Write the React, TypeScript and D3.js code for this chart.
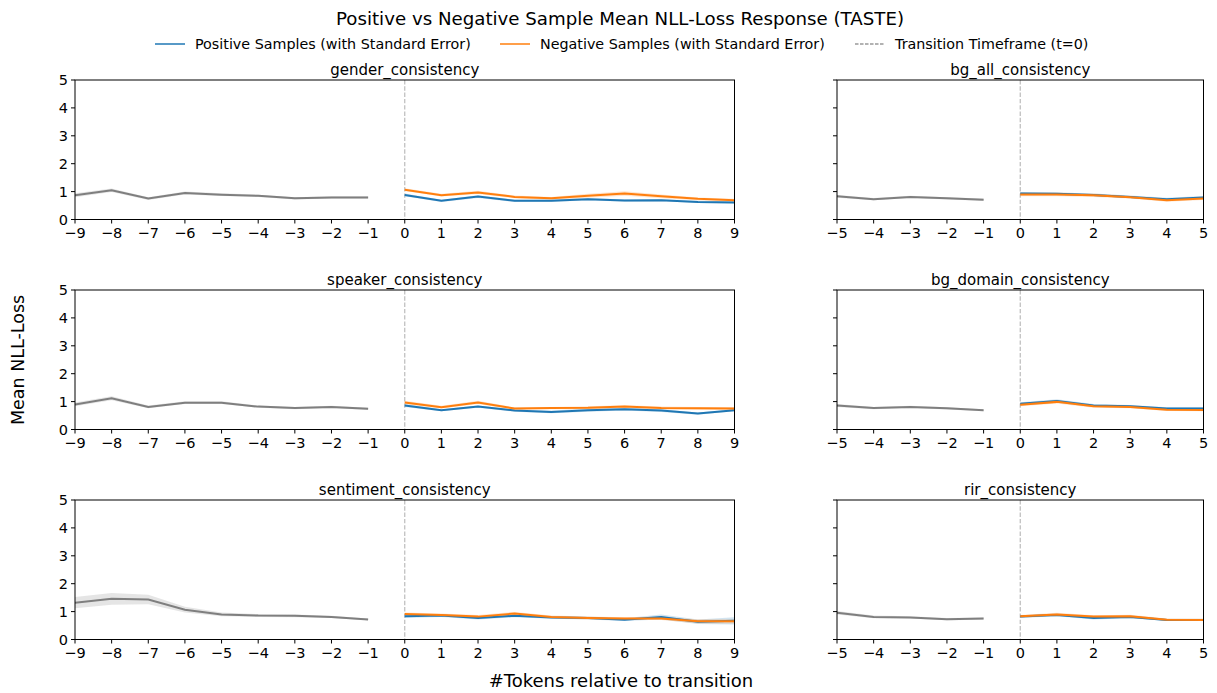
import React from "react";
import * as d3 from "d3";

const W = 1217;
const H = 693;

const panelNames = [
  "gender_consistency",
  "bg_all_consistency",
  "speaker_consistency",
  "bg_domain_consistency",
  "sentiment_consistency",
  "rir_consistency",
];

const preLong = [-9, -8, -7, -6, -5, -4, -3, -2, -1];
const postLong = [0, 1, 2, 3, 4, 5, 6, 7, 8, 9];
const preShort = [-5, -4, -3, -2, -1];
const postShort = [0, 1, 2, 3, 4, 5];

// gender
const genderPre = [0.87, 1.05, 0.75, 0.95, 0.89, 0.85, 0.76, 0.79, 0.79];
const genderPreSE = [0.07, 0.06, 0.05, 0.05, 0.05, 0.04, 0.04, 0.04, 0.04];
const genderPos = [0.88, 0.67, 0.82, 0.67, 0.67, 0.73, 0.68, 0.69, 0.63, 0.61];
const genderPosSE = [0.05, 0.04, 0.05, 0.04, 0.04, 0.04, 0.04, 0.04, 0.04, 0.04];
const genderNeg = [1.07, 0.87, 0.97, 0.81, 0.76, 0.85, 0.93, 0.83, 0.74, 0.69];
const genderNegSE = [0.05, 0.05, 0.06, 0.05, 0.05, 0.07, 0.08, 0.07, 0.05, 0.05];

// speaker
const speakerPre = [0.9, 1.12, 0.81, 0.96, 0.96, 0.82, 0.77, 0.81, 0.74];
const speakerPreSE = [0.07, 0.07, 0.05, 0.05, 0.05, 0.04, 0.04, 0.04, 0.04];
const speakerPos = [0.86, 0.69, 0.82, 0.68, 0.63, 0.69, 0.73, 0.68, 0.57, 0.69];
const speakerPosSE = [0.05, 0.04, 0.04, 0.04, 0.05, 0.05, 0.05, 0.05, 0.04, 0.04];
const speakerNeg = [0.97, 0.8, 0.97, 0.75, 0.77, 0.78, 0.82, 0.77, 0.76, 0.75];
const speakerNegSE = [0.06, 0.05, 0.06, 0.04, 0.04, 0.05, 0.05, 0.05, 0.05, 0.05];

// sentiment
const sentimentPre = [1.32, 1.46, 1.43, 1.07, 0.9, 0.86, 0.85, 0.81, 0.72];
const sentimentPreSE = [0.2, 0.21, 0.17, 0.1, 0.07, 0.05, 0.05, 0.04, 0.03];
const sentimentPos = [0.83, 0.86, 0.77, 0.85, 0.79, 0.77, 0.71, 0.81, 0.64, 0.67];
const sentimentPosSE = [0.06, 0.05, 0.05, 0.05, 0.05, 0.05, 0.05, 0.09, 0.08, 0.13];
const sentimentNeg = [0.91, 0.88, 0.82, 0.93, 0.81, 0.77, 0.75, 0.75, 0.65, 0.65];
const sentimentNegSE = [0.06, 0.05, 0.06, 0.06, 0.05, 0.05, 0.05, 0.05, 0.08, 0.08];

// bg_all
const bgAllPre = [0.83, 0.73, 0.81, 0.76, 0.71];
const bgAllPreSE = [0.05, 0.04, 0.04, 0.04, 0.04];
const bgAllPos = [0.93, 0.92, 0.88, 0.81, 0.73, 0.79];
const bgAllPosSE = [0.06, 0.05, 0.05, 0.05, 0.05, 0.05];
const bgAllNeg = [0.9, 0.9, 0.87, 0.8, 0.69, 0.75];
const bgAllNegSE = [0.07, 0.07, 0.06, 0.05, 0.05, 0.05];

// bg_domain
const bgDomainPre = [0.86, 0.77, 0.81, 0.76, 0.69];
const bgDomainPreSE = [0.05, 0.04, 0.04, 0.04, 0.04];
const bgDomainPos = [0.92, 1.02, 0.86, 0.83, 0.75, 0.75];
const bgDomainPosSE = [0.06, 0.06, 0.05, 0.05, 0.05, 0.05];
const bgDomainNeg = [0.89, 0.99, 0.83, 0.81, 0.71, 0.7];
const bgDomainNegSE = [0.06, 0.06, 0.05, 0.05, 0.05, 0.05];

// rir
const rirPre = [0.96, 0.81, 0.79, 0.73, 0.75];
const rirPreSE = [0.06, 0.05, 0.04, 0.04, 0.04];
const rirPos = [0.82, 0.88, 0.77, 0.81, 0.7, 0.7];
const rirPosSE = [0.05, 0.05, 0.05, 0.05, 0.04, 0.04];
const rirNeg = [0.83, 0.9, 0.82, 0.83, 0.71, 0.7];
const rirNegSE = [0.05, 0.06, 0.05, 0.06, 0.04, 0.04];

const yTicks = [0, 1, 2, 3, 4, 5];

type Panel = {
  name: string;
  pre: number[];
  post: number[];
  preMean: number[];
  preSE: number[];
  pos: number[];
  posSE: number[];
  neg: number[];
  negSE: number[];
  col: number;
  row: number;
};

const panels: Panel[] = [
  { name: panelNames[0], pre: preLong, post: postLong, preMean: genderPre, preSE: genderPreSE, pos: genderPos, posSE: genderPosSE, neg: genderNeg, negSE: genderNegSE, col: 0, row: 0 },
  { name: panelNames[1], pre: preShort, post: postShort, preMean: bgAllPre, preSE: bgAllPreSE, pos: bgAllPos, posSE: bgAllPosSE, neg: bgAllNeg, negSE: bgAllNegSE, col: 1, row: 0 },
  { name: panelNames[2], pre: preLong, post: postLong, preMean: speakerPre, preSE: speakerPreSE, pos: speakerPos, posSE: speakerPosSE, neg: speakerNeg, negSE: speakerNegSE, col: 0, row: 1 },
  { name: panelNames[3], pre: preShort, post: postShort, preMean: bgDomainPre, preSE: bgDomainPreSE, pos: bgDomainPos, posSE: bgDomainPosSE, neg: bgDomainNeg, negSE: bgDomainNegSE, col: 1, row: 1 },
  { name: panelNames[4], pre: preLong, post: postLong, preMean: sentimentPre, preSE: sentimentPreSE, pos: sentimentPos, posSE: sentimentPosSE, neg: sentimentNeg, negSE: sentimentNegSE, col: 0, row: 2 },
  { name: panelNames[5], pre: preShort, post: postShort, preMean: rirPre, preSE: rirPreSE, pos: rirPos, posSE: rirPosSE, neg: rirNeg, negSE: rirNegSE, col: 1, row: 2 },
];

const colX = [
  [75, 734.5],
  [837, 1203.5],
];
const rowY = [
  [80, 219.5],
  [290, 429.5],
  [500, 639.5],
];

const BLUE = "#1f77b4";
const ORANGE = "#ff7f0e";
const GRAY = "#7f7f7f";
const FONT = "DejaVu Sans, sans-serif";

const fmt = (v: number) => (v < 0 ? "\u2212" + Math.abs(v) : String(v));

function PanelView({ p }: { p: Panel }) {
  const [x0, x1] = colX[p.col];
  const [y0, y1] = rowY[p.row];
  const all = [...p.pre, ...p.post];
  const x = d3.scaleLinear().domain([d3.min(all)!, d3.max(all)!]).range([x0, x1]);
  const y = d3.scaleLinear().domain([0, 5]).range([y1, y0]);
  const line = (xs: number[], ys: number[]) =>
    d3.line<number>().x((_, i) => x(xs[i])).y((d) => y(d))(ys) || "";
  const band = (xs: number[], ys: number[], se: number[]) =>
    d3
      .area<number>()
      .x((_, i) => x(xs[i]))
      .y0((d, i) => y(d - se[i]))
      .y1((d, i) => y(d + se[i]))(ys) || "";
  const clipId = "clip-" + p.name;
  return (
    <g>
      <defs>
        <clipPath id={clipId}>
          <rect x={x0} y={y0} width={x1 - x0} height={y1 - y0} />
        </clipPath>
      </defs>
      <g clipPath={`url(#${clipId})`}>
        <line x1={x(0)} x2={x(0)} y1={y0} y2={y1} stroke="#bbbbbb" strokeWidth={1.2} strokeDasharray="4.4,1.9" />
        <path d={band(p.pre, p.preMean, p.preSE)} fill={GRAY} fillOpacity={0.2} />
        <path d={line(p.pre, p.preMean)} fill="none" stroke={GRAY} strokeWidth={2} />
        <path d={band(p.post, p.pos, p.posSE)} fill={BLUE} fillOpacity={0.2} />
        <path d={band(p.post, p.neg, p.negSE)} fill={ORANGE} fillOpacity={0.2} />
        <path d={line(p.post, p.pos)} fill="none" stroke={BLUE} strokeWidth={2} />
        <path d={line(p.post, p.neg)} fill="none" stroke={ORANGE} strokeWidth={2} />
      </g>
      <rect x={x0} y={y0} width={x1 - x0} height={y1 - y0} fill="none" stroke="#000" strokeWidth={1} />
      {all.map((t) => (
        <g key={t}>
          <line x1={x(t)} x2={x(t)} y1={y1} y2={y1 + 4} stroke="#000" strokeWidth={1} />
          <text x={x(t)} y={y1 + 18} textAnchor="middle" fontSize={14.5} fontFamily={FONT} fill="#000">
            {fmt(t)}
          </text>
        </g>
      ))}
      {yTicks.map((t) => (
        <g key={t}>
          <line x1={x0 - 4} x2={x0} y1={y(t)} y2={y(t)} stroke="#000" strokeWidth={1} />
          {p.col === 0 && (
            <text x={x0 - 7} y={y(t) + 5.2} textAnchor="end" fontSize={14.5} fontFamily={FONT} fill="#000">
              {t}
            </text>
          )}
        </g>
      ))}
      <text x={(x0 + x1) / 2} y={y0 - 5} textAnchor="middle" fontSize={15} fontFamily={FONT} fill="#000">
        {p.name}
      </text>
    </g>
  );
}

const legendItems = [
  { label: "Positive Samples (with Standard Error)", color: BLUE, dash: "", x: 155 },
  { label: "Negative Samples (with Standard Error)", color: ORANGE, dash: "", x: 500 },
  { label: "Transition Timeframe (t=0)", color: "#999999", dash: "3.5,1.5", x: 855 },
];

export default function App() {
  return (
    <svg width={W} height={H} style={{ position: "absolute", left: 0, top: 0, background: "#fff" }}>
      <rect width={W} height={H} fill="#fff" />
      <text x={620} y={25} textAnchor="middle" fontSize={18.2} fontFamily={FONT} fill="#000">
        Positive vs Negative Sample Mean NLL-Loss Response (TASTE)
      </text>
      {legendItems.map((l) => (
        <g key={l.label}>
          <line x1={l.x} x2={l.x + 30} y1={44} y2={44} stroke={l.color} strokeWidth={1.5} strokeDasharray={l.dash || undefined} />
          <text x={l.x + 40} y={49} fontSize={14.3} fontFamily={FONT} fill="#000">
            {l.label}
          </text>
        </g>
      ))}
      {panels.map((p) => (
        <PanelView key={p.name} p={p} />
      ))}
      <text
        transform={`translate(24,${360}) rotate(-90)`}
        textAnchor="middle"
        fontSize={17.5}
        fontFamily={FONT}
        fill="#000"
      >
        Mean NLL-Loss
      </text>
      <text x={621} y={687} textAnchor="middle" fontSize={18} fontFamily={FONT} fill="#000">
        #Tokens relative to transition
      </text>
    </svg>
  );
}
